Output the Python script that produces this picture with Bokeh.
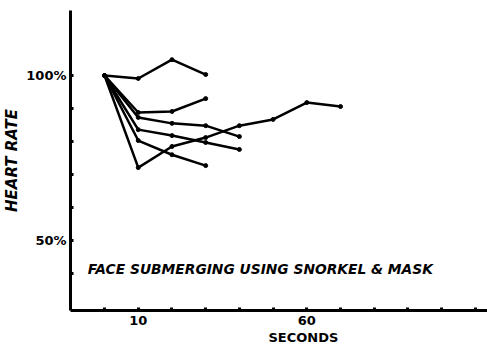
from bokeh.plotting import figure
from bokeh.models import FixedTicker, Label, Range1d, Title
from bokeh.embed import file_html
from bokeh.resources import INLINE

# data (seconds, heart rate % of initial)
t1 = [0, 10, 20, 30]
hr1 = [100, 99.1, 104.8, 100.3]
t2 = [0, 10, 20, 30]
hr2 = [100, 88.8, 89.1, 93.0]
t3 = [0, 10, 20, 30, 40]
hr3 = [100, 87.3, 85.5, 84.8, 81.5]
t4 = [0, 10, 20, 30, 40]
hr4 = [100, 83.6, 81.8, 79.7, 77.6]
t5 = [0, 10, 20, 30]
hr5 = [100, 80.3, 76.0, 72.7]
t6 = [0, 10, 20, 30, 40, 50, 60, 70]
hr6 = [100, 72.1, 78.5, 81.2, 84.8, 86.7, 91.8, 90.6]

series = [(t1, hr1), (t2, hr2), (t3, hr3), (t4, hr4), (t5, hr5), (t6, hr6)]

x_ticks = [0, 10, 20, 30, 40, 50, 60, 70, 80, 90, 100, 110]
x_labels = {10: "10", 60: "60"}
y_ticks = [40, 50, 60, 70, 80, 90, 100]
y_labels = {50: "50%", 100: "100%"}

title_text = "FACE SUBMERGING USING SNORKEL & MASK"
x_title = "SECONDS"
y_title = "HEART RATE"

p = figure(width=487, height=354, output_backend="svg", toolbar_location=None,
           x_range=Range1d(-10.1, 113.6), y_range=Range1d(28.8, 119.7),
           min_border_left=70, min_border_right=0, min_border_top=10, min_border_bottom=44)
p.outline_line_color = None
p.grid.visible = False

for t, hr in series:
    p.line(t, hr, line_color="black", line_width=2.5)
    p.scatter(t, hr, size=4, color="black")

ax = p.xaxis[0]
ax.ticker = FixedTicker(ticks=x_ticks)
ax.major_label_overrides = {k: x_labels.get(k, "") for k in x_ticks}
ax.axis_line_width = 3
ax.axis_line_color = "black"
ax.major_tick_in = 3
ax.major_tick_out = 0
ax.major_tick_line_width = 3
ax.major_tick_line_color = "black"
ax.minor_tick_line_color = None
ax.major_label_text_font = "DejaVu Sans"
ax.major_label_text_font_style = "bold"
ax.major_label_text_font_size = "13px"
ax.major_label_text_color = "black"
ax.major_label_standoff = 5

ay = p.yaxis[0]
ay.ticker = FixedTicker(ticks=y_ticks)
ay.major_label_overrides = {k: y_labels.get(k, "") for k in y_ticks}
ay.axis_line_width = 3
ay.axis_line_color = "black"
ay.major_tick_in = 3
ay.major_tick_out = 0
ay.major_tick_line_width = 3
ay.major_tick_line_color = "black"
ay.minor_tick_line_color = None
ay.major_label_text_font = "DejaVu Sans"
ay.major_label_text_font_style = "bold"
ay.major_label_text_font_size = "13px"
ay.major_label_text_color = "black"
ay.major_label_standoff = 4
ay.axis_label = y_title
ay.axis_label_text_font = "DejaVu Sans"
ay.axis_label_text_font_style = "bold italic"
ay.axis_label_text_font_size = "15px"
ay.axis_label_text_color = "black"
ay.axis_label_standoff = 2

p.add_layout(Label(x=-5, y=41.5, text=title_text, text_font="DejaVu Sans",
                   text_font_style="bold italic", text_font_size="13.8px",
                   text_color="black",
                   text_baseline="middle", text_align="left"))
p.add_layout(Title(text=x_title, align="left", offset=198, standoff=0,
                   text_font="DejaVu Sans", text_font_style="bold",
                   text_color="black",
                   text_font_size="13px"), "below")

open("out.html", "w").write(file_html(p, INLINE))
